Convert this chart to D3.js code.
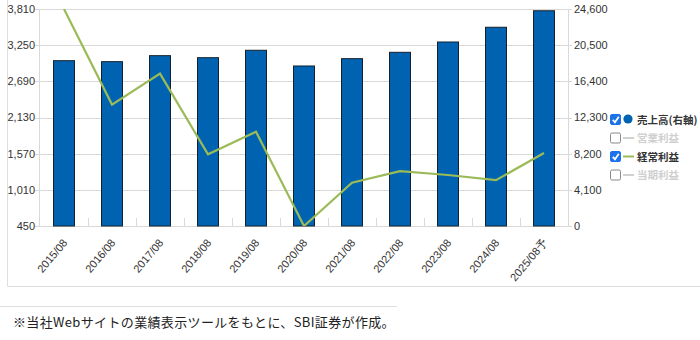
<!DOCTYPE html>
<html>
<head>
<meta charset="utf-8">
<script src="https://cdn.jsdelivr.net/npm/d3@7"></script>
<style>
  html, body { margin: 0; padding: 0; background: #fff; }
  svg { display: block; }
</style>
</head>
<body>
<svg id="chart" width="700" height="340"></svg>
<script>
// Fiscal periods (August year-end), last one is the company forecast
const periods = ["2015/08", "2016/08", "2017/08", "2018/08", "2019/08", "2020/08",
                 "2021/08", "2022/08", "2023/08", "2024/08", "2025/08予"];
// 売上高 (right axis)
const sales = [18740, 18630, 19310, 19080, 19920, 18140, 18970, 19690, 20860, 22530, 24400];
// 経常利益 (left axis)
const ordinaryProfit = [3810, 2330, 2810, 1560, 1910, 450, 1120, 1300, 1240, 1160, 1580];
// Axis ticks
const leftTicks = [450, 1010, 1570, 2130, 2690, 3250, 3810];
const rightTicks = [0, 4100, 8200, 12300, 16400, 20500, 24600];
// Legend entries: label, marker type, enabled
const legendLabels = ["売上高(右軸)", "営業利益", "経常利益", "当期利益"];
const legendMarks = ["dot", "line", "line", "line"];
const legendOn = [true, false, true, false];

const svg = d3.select("#chart");
const plot = { left: 39, right: 568, top: 9, bottom: 226 };
const barColor = "#0063b1";
const lineColor = "#9bbb59";
const gridColor = "#d9d9d9";
const textColor = "#333";
const axisFont = "'Liberation Sans', Arial, sans-serif";
const jpFont = "'Noto Sans CJK JP', sans-serif";

// outer frame of the chart panel
svg.append("path")
  .attr("d", `M7.5,0V286.5H700`)
  .attr("fill", "none").attr("stroke", "#dedede");

const x = d3.scaleBand().domain(periods)
  .range([plot.left + 1, plot.right])
  .paddingInner(0.56).paddingOuter(0.28);
const yL = d3.scaleLinear().domain([leftTicks[0], leftTicks[leftTicks.length - 1]])
  .range([plot.bottom, plot.top]);
const yR = d3.scaleLinear().domain([rightTicks[0], rightTicks[rightTicks.length - 1]])
  .range([plot.bottom, plot.top]);

// horizontal grid
svg.append("g").selectAll("line").data(leftTicks).join("line")
  .attr("x1", plot.left - 4).attr("x2", plot.right + 4)
  .attr("y1", d => Math.round(yL(d)) + 0.5).attr("y2", d => Math.round(yL(d)) + 0.5)
  .attr("stroke", gridColor);

// vertical axis lines
svg.append("line").attr("x1", plot.left + 0.5).attr("x2", plot.left + 0.5)
  .attr("y1", plot.top).attr("y2", plot.bottom).attr("stroke", gridColor);
svg.append("line").attr("x1", plot.right + 0.5).attr("x2", plot.right + 0.5)
  .attr("y1", plot.top).attr("y2", plot.bottom).attr("stroke", gridColor);

// category separator ticks along the baseline
const half = (x.step() - x.bandwidth()) / 2;
svg.append("g").selectAll("line").data(periods.slice(1)).join("line")
  .attr("x1", d => Math.round(x(d) - half) + 0.5).attr("x2", d => Math.round(x(d) - half) + 0.5)
  .attr("y1", plot.bottom).attr("y2", plot.bottom - 8)
  .attr("stroke", gridColor);

// left axis labels
svg.append("g").selectAll("text").data(leftTicks).join("text")
  .attr("x", 35).attr("y", d => yL(d)).attr("dy", "0.35em")
  .attr("text-anchor", "end").attr("font-family", axisFont).attr("font-size", 11)
  .attr("fill", textColor).text(d => d3.format(",")(d));

// right axis labels
svg.append("g").selectAll("text").data(rightTicks).join("text")
  .attr("x", 574).attr("y", d => yR(d)).attr("dy", "0.35em")
  .attr("text-anchor", "start").attr("font-family", axisFont).attr("font-size", 11)
  .attr("fill", textColor).text(d => d3.format(",")(d));

// bars: sales
svg.append("g").selectAll("rect").data(periods).join("rect")
  .attr("x", d => Math.round(x(d)) + 0.5)
  .attr("y", (d, i) => yR(sales[i]))
  .attr("width", Math.round(x.bandwidth()))
  .attr("height", (d, i) => plot.bottom - yR(sales[i]))
  .attr("fill", barColor).attr("stroke", "#16202b").attr("stroke-width", 1);

// line: ordinary profit, clipped to plot area
svg.append("clipPath").attr("id", "plotClip").append("rect")
  .attr("x", plot.left).attr("y", plot.top)
  .attr("width", plot.right - plot.left).attr("height", plot.bottom - plot.top);
const line = d3.line()
  .x((d, i) => x(periods[i]) + x.bandwidth() / 2)
  .y(d => yL(d));
svg.append("path").datum(ordinaryProfit)
  .attr("clip-path", "url(#plotClip)")
  .attr("d", line).attr("fill", "none")
  .attr("stroke", lineColor).attr("stroke-width", 2.2);

// x labels, rotated
svg.append("g").selectAll("text").data(periods).join("text")
  .attr("transform", d => `translate(${x(d) + x.bandwidth() / 2 + 4},${plot.bottom + 17}) rotate(-50)`)
  .attr("text-anchor", "end")
  .attr("font-family", axisFont).attr("font-size", 11)
  .attr("fill", textColor).text(d => d);

// legend
const lg = svg.append("g").attr("transform", "translate(610,0)");
const rows = lg.selectAll("g").data(legendLabels).join("g")
  .attr("transform", (d, i) => `translate(0,${120 + i * 18.5})`);
rows.append("rect")
  .attr("x", 0.5).attr("y", -5.5).attr("width", 10).attr("height", 10).attr("rx", 1.5)
  .attr("fill", (d, i) => legendOn[i] ? "#1a73e8" : "#fff")
  .attr("stroke", (d, i) => legendOn[i] ? "#1a73e8" : "#8a8a8a");
rows.filter((d, i) => legendOn[i]).append("path")
  .attr("d", "M2.8,-0.2L5,2.3L8.8,-3.2")
  .attr("fill", "none").attr("stroke", "#fff").attr("stroke-width", 1.8);
rows.each(function (d, i) {
  const g = d3.select(this);
  if (legendMarks[i] === "dot") {
    g.append("circle").attr("cx", 18).attr("cy", -1).attr("r", 4.6).attr("fill", barColor);
  } else {
    g.append("line").attr("x1", 13).attr("x2", 24).attr("y1", -0.5).attr("y2", -0.5)
      .attr("stroke", legendOn[i] ? lineColor : "#d0d0d0").attr("stroke-width", 2);
  }
});
rows.append("text")
  .attr("x", 27).attr("y", 0).attr("dy", "0.35em")
  .attr("font-family", jpFont).attr("font-size", 10.5).attr("font-weight", "bold")
  .attr("fill", (d, i) => legendOn[i] ? "#333" : "#cfcfcf").text(d => d);

// source note
svg.append("line").attr("x1", 0).attr("x2", 397).attr("y1", 306.5).attr("y2", 306.5)
  .attr("stroke", "#dedede");
svg.append("text").attr("x", 13).attr("y", 322).attr("dy", "0.35em")
  .attr("font-family", jpFont).attr("font-size", 13).attr("letter-spacing", 0.35)
  .attr("fill", "#222")
  .text("※当社Webサイトの業績表示ツールをもとに、SBI証券が作成。");
</script>
</body>
</html>
